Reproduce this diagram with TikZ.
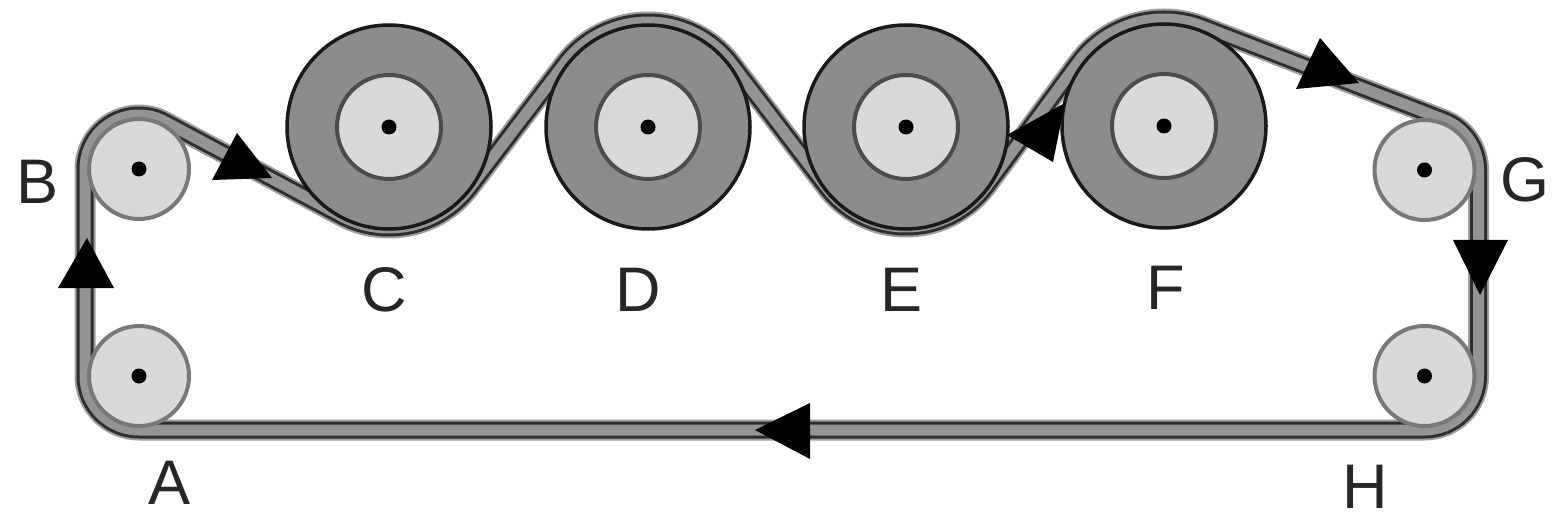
\documentclass[tikz,border=0pt]{standalone}
\usepackage{fontspec}
\setmainfont{Liberation Sans}
\usetikzlibrary{calc}
\definecolor{rollerlight}{gray}{0.85}
\definecolor{rollerdark}{gray}{0.55}
\definecolor{smalledge}{gray}{0.47}
\definecolor{inneredge}{gray}{0.3}
\definecolor{beltedge}{gray}{0.62}
\definecolor{beltdark}{gray}{0.18}
\definecolor{beltmid}{gray}{0.58}
\tikzset{
  smallroller/.style={circle,draw=smalledge,fill=rollerlight,line width=4pt,minimum size=100pt,inner sep=0pt,outer sep=0pt},
  largeroller/.style={circle,draw=black!90,fill=rollerdark,line width=3.5pt,minimum size=204pt,inner sep=0pt,outer sep=0pt},
  innerroller/.style={circle,draw=inneredge,fill=rollerlight,line width=4pt,minimum size=104pt,inner sep=0pt,outer sep=0pt},
  axle/.style={circle,fill=black,minimum size=15pt,inner sep=0pt,outer sep=0pt},
  belt/.style={line join=round,
    postaction={draw=beltedge,line width=21pt},
    postaction={draw=beltdark,line width=17pt},
    postaction={draw=beltmid,line width=11pt}},
  arrowtri/.style={fill=black},
  lab/.style={inner sep=0pt,outer sep=0pt,font=\fontsize{63}{63}\selectfont,text=black!85}
}
\begin{document}
\begin{tikzpicture}[x=1pt,y=1pt]
\useasboundingbox (0,0) rectangle (1557,520);
\fill[white] (0,0) rectangle (1557,520);
% reference points for the belt (roller centres)
\coordinate (cA) at (139,144);
\coordinate (cB) at (139,351);
\coordinate (cC) at (389,393);
\coordinate (cD) at (648,393);
\coordinate (cE) at (906,393);
\coordinate (cF) at (1164,394);
\coordinate (cG) at (1424.5,350);
\coordinate (cH) at (1424.5,144);
% belt, underneath the rollers
\path[belt]
  ($(cA)+(270:54)$) arc[start angle=270,end angle=180,radius=54]
  -- ($(cB)+(180:54)$) arc[start angle=180,end angle=61.85,radius=54]
  -- ($(cC)+(241.85:101)$) arc[start angle=241.85,end angle=322.69,radius=101]
  -- ($(cD)+(142.69:105)$) arc[start angle=142.69,end angle=37.38,radius=105]
  -- ($(cE)+(217.38:100)$) arc[start angle=217.38,end angle=323.57,radius=100]
  -- ($(cF)+(143.57:107)$) arc[start angle=143.57,end angle=68.8,radius=107]
  -- ($(cG)+(68.8:54)$) arc[start angle=68.8,end angle=0,radius=54]
  -- ($(cH)+(0:54)$) arc[start angle=0,end angle=-90,radius=54]
  -- cycle;
% small rollers
\foreach \n in {A,B,G,H}{
  \node[smallroller] (r\n) at (c\n) {};
  \node[axle] (a\n) at (r\n.center) {};
}
% large rollers
\foreach \n in {C,D,E,F}{
  \node[largeroller] (r\n) at (c\n) {};
  \node[innerroller] (i\n) at (r\n.center) {};
  \node[axle] (a\n) at (r\n.center) {};
}
% arrowheads
\fill[arrowtri] (58,232) -- (87,282) -- (114,232) -- cycle;
\fill[arrowtri] (237,387) -- (212,340) -- (272,342) -- cycle;
\fill[arrowtri] (1007,385) -- (1065,417) -- (1053,358) -- cycle;
\fill[arrowtri] (1320,482) -- (1296,431) -- (1359,437) -- cycle;
\fill[arrowtri] (1453,280) -- (1508,280) -- (1480,225) -- cycle;
\fill[arrowtri] (755,90) -- (810,117) -- (810,61) -- cycle;
% labels
\node[lab] (lA) at (170,37) {A};
\node[lab] (lB) at (38,338) {B};
\node[lab] (lC) at (384,230) {C};
\node[lab] (lD) at (638,230) {D};
\node[lab] (lE) at (901,230) {E};
\node[lab] (lF) at (1166,232) {F};
\node[lab] (lG) at (1525,340) {G};
\node[lab] (lH) at (1365,33) {H};
\end{tikzpicture}
\end{document}
